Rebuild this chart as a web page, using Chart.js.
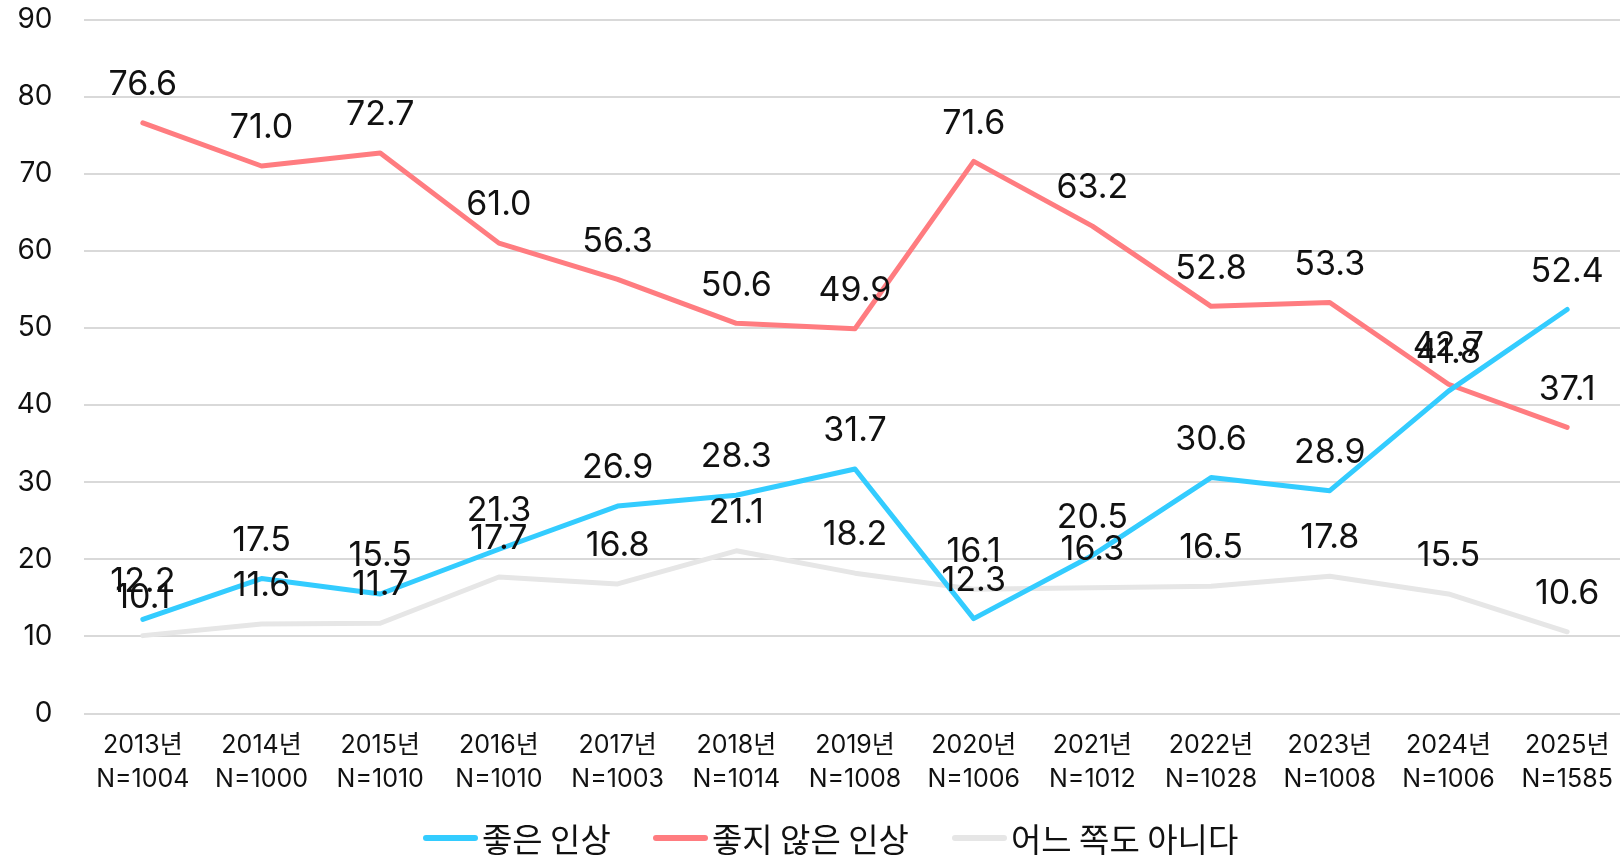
<!DOCTYPE html>
<html>
<head>
<meta charset="utf-8">
<script src="https://cdn.jsdelivr.net/npm/chart.js@4.4.1/dist/chart.umd.min.js"></script>
<style>
  html, body { margin: 0; padding: 0; background: #fff; }
  #wrap { position: relative; width: 1621px; height: 856px; overflow: hidden; }
  #legend { position: absolute; left: 0; top: 0; width: 1621px; height: 856px; pointer-events: none; }
  .lg-item { position: absolute; top: 819px; height: 38px; display: flex; align-items: center;
             font-family: 'Noto Sans CJK KR', Inter, sans-serif; font-size: 33px; color: #111; white-space: nowrap; }
  .lg-sw { width: 55px; height: 6px; border-radius: 3px; margin-right: 4px; }
</style>
</head>
<body>
<div id="wrap">
  <canvas id="c" width="1621" height="856"></canvas>
  <div id="legend"></div>
</div>
<script>
// ---- data ----
const years = ['2013년','2014년','2015년','2016년','2017년','2018년','2019년','2020년','2021년','2022년','2023년','2024년','2025년'];
const sampleSizes = ['N=1004','N=1000','N=1010','N=1010','N=1003','N=1014','N=1008','N=1006','N=1012','N=1028','N=1008','N=1006','N=1585'];
const goodImpression = [12.2, 17.5, 15.5, 21.3, 26.9, 28.3, 31.7, 12.3, 20.5, 30.6, 28.9, 41.8, 52.4];
const badImpression = [76.6, 71.0, 72.7, 61.0, 56.3, 50.6, 49.9, 71.6, 63.2, 52.8, 53.3, 42.7, 37.1];
const neitherImpression = [10.1, 11.6, 11.7, 17.7, 16.8, 21.1, 18.2, 16.1, 16.3, 16.5, 17.8, 15.5, 10.6];
const seriesNames = ['좋은 인상', '좋지 않은 인상', '어느 쪽도 아니다'];
const yTicks = [0, 10, 20, 30, 40, 50, 60, 70, 80, 90];

const colors = ['#33CCFF', '#FF7C80', '#E6E6E6'];
const FONT = "Inter, 'Noto Sans CJK KR', sans-serif";

const labels = years.map((y, i) => [y, sampleSizes[i]]);

const valueLabels = {
  id: 'valueLabels',
  afterDatasetsDraw(chart) {
    const ctx = chart.ctx;
    ctx.save();
    ctx.font = "34px " + FONT;
    ctx.fillStyle = '#111';
    ctx.textAlign = 'center';
    ctx.textBaseline = 'alphabetic';
    chart.data.datasets.forEach((ds, di) => {
      const meta = chart.getDatasetMeta(di);
      meta.data.forEach((pt, i) => {
        ctx.fillText(ds.data[i].toFixed(1), pt.x, pt.y - 27.8);
      });
    });
    ctx.restore();
  }
};

// the category band extends a little past the right canvas edge
const stretchX = {
  id: 'stretchX',
  afterLayout(chart) {
    const s = chart.scales.x;
    s.right = s.right + 6.5;
    s.width = s.right - s.left;
    s.configure();
  }
};

const mk = (name, data, color) => ({
  label: name, data,
  borderColor: color, backgroundColor: color,
  borderWidth: 5, pointRadius: 0, pointHoverRadius: 0, tension: 0,
  borderCapStyle: 'round', borderJoinStyle: 'round', fill: false
});

const chart = new Chart(document.getElementById('c'), {
  type: 'line',
  data: {
    labels,
    datasets: [
      mk(seriesNames[0], goodImpression, colors[0]),
      mk(seriesNames[1], badImpression, colors[1]),
      mk(seriesNames[2], neitherImpression, colors[2])
    ]
  },
  options: {
    responsive: false,
    animation: false,
    events: [],
    layout: { padding: { top: 19.5, right: 1, bottom: 0, left: 0 } },
    plugins: { legend: { display: false }, tooltip: { enabled: false } },
    scales: {
      x: {
        offset: true,
        grid: { display: false, drawTicks: false },
        border: { display: false },
        ticks: { color: '#111', font: { family: FONT, size: 25, lineHeight: 1.36 }, padding: 14.5, maxRotation: 0, autoSkip: false },
        afterFit(s) { s.height = 142.5; s.paddingLeft = 0; s.paddingRight = 0; }
      },
      y: {
        min: 0, max: 90,
        afterBuildTicks(s) { s.ticks = yTicks.map(v => ({ value: v })); },
        grid: { color: '#D9D9D9', lineWidth: 2, drawTicks: false },
        border: { display: false },
        ticks: { color: '#111', font: { family: FONT, size: 28 }, padding: 31 },
        afterFit(s) { s.width = 83.5; s.paddingTop = 0; s.paddingBottom = 0; }
      }
    }
  },
  plugins: [stretchX, valueLabels]
});

// HTML legend built from the chart's datasets
const legendX = [423, 653, 952];
const lg = document.getElementById('legend');
chart.data.datasets.forEach((ds, i) => {
  const item = document.createElement('div');
  item.className = 'lg-item';
  item.style.left = legendX[i] + 'px';
  const sw = document.createElement('span');
  sw.className = 'lg-sw';
  sw.style.background = ds.borderColor;
  const tx = document.createElement('span');
  tx.textContent = ds.label;
  item.appendChild(sw); item.appendChild(tx);
  lg.appendChild(item);
});
</script>
</body>
</html>
